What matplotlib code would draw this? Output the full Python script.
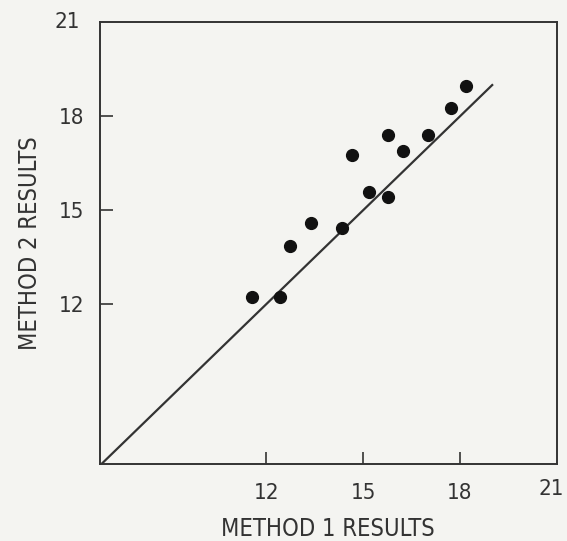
import numpy as np
import matplotlib.pyplot as plt
from matplotlib import font_manager

# Data
method_1 = [11.55, 12.42, 12.73, 13.38, 14.34, 14.66, 15.20, 15.76, 15.76, 16.25, 17.00, 17.73, 18.18]
method_2 = [12.24, 12.24, 13.87, 14.58, 14.45, 16.76, 15.57, 15.44, 17.42, 16.89, 17.40, 18.28, 18.97]

line_x = [6.9, 19.0]
line_y = [6.9, 19.0]

ticks = [12, 15, 18]
tick_labels = ["12", "15", "18"]

# Narrow font if present
names = {f.name for f in font_manager.fontManager.ttflist}
fam = "DejaVu Sans"
for cand in ["Liberation Sans Narrow", "DejaVu Sans Condensed"]:
    if cand in names:
        fam = cand
        break
plt.rcParams["font.family"] = fam
plt.rcParams["font.stretch"] = "condensed"

ink = "#333333"
bg = "#f4f4f1"
fs = 16

fig = plt.figure(figsize=(5.67, 5.41), dpi=100, facecolor=bg)
ax = fig.add_axes([0.1755, 0.1423, 0.8065, 0.8163])
ax.set_facecolor(bg)

ax.plot(line_x, line_y, color=ink, lw=1.6)
ax.plot(method_1, method_2, "o", color="#111111", ms=8.5, mec="#111111")

ax.set_xlim(6.84, 21)
ax.set_ylim(6.9, 21)

ax.set_xticks(ticks)
ax.set_xticklabels(tick_labels)
ax.set_yticks(ticks)
ax.set_yticklabels(tick_labels)
ax.tick_params(direction="in", length=9, width=1.2, color=ink, labelcolor=ink,
               labelsize=fs)
ax.tick_params(axis="x", pad=14)
ax.tick_params(axis="y", pad=11)

for s in ax.spines.values():
    s.set_color(ink)
    s.set_linewidth(1.4)

# corner labels (21) sit at the axis ends
ax.text(0.988, -0.0565, "21", transform=ax.transAxes, ha="center", va="center",
        fontsize=fs, color=ink)
ax.text(-0.07, 1.0, "21", transform=ax.transAxes, ha="center", va="center",
        fontsize=fs, color=ink)

ax.set_xlabel("METHOD 1 RESULTS", fontsize=17, color=ink, labelpad=10)
ax.set_ylabel("METHOD 2 RESULTS", fontsize=17, color=ink, labelpad=12)

fig.savefig("out.png", dpi=100, facecolor=bg)
